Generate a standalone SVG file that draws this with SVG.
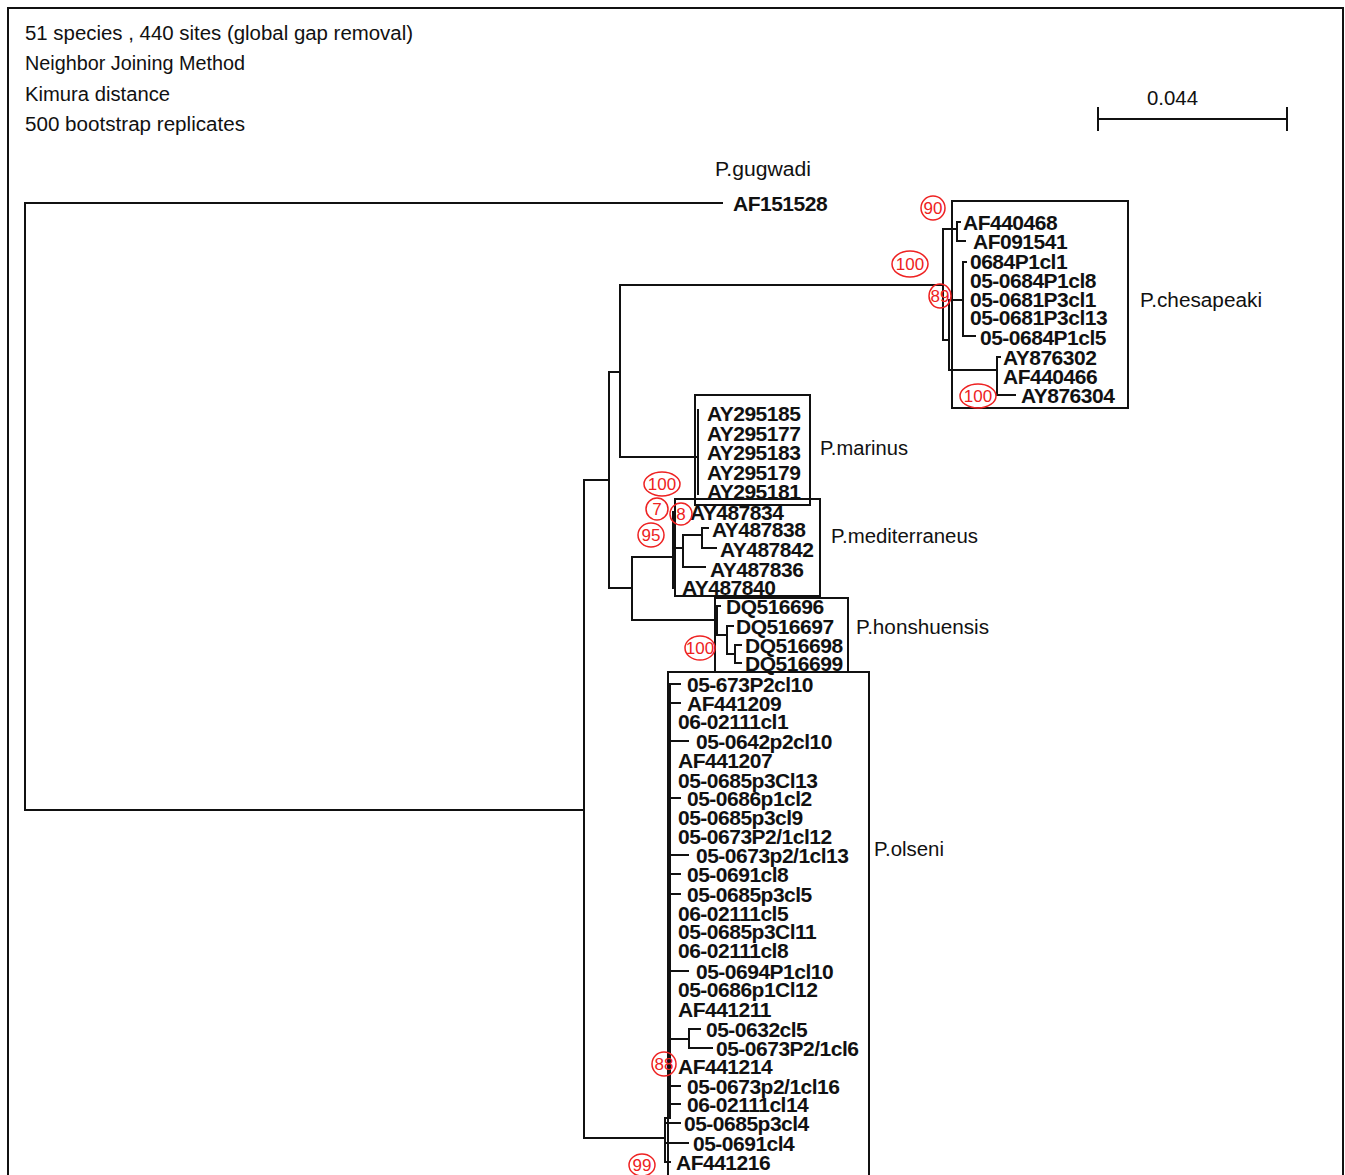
<svg xmlns="http://www.w3.org/2000/svg" width="1345" height="1175" viewBox="0 0 1345 1175">
<style>
.ln{fill:none;stroke:#111;stroke-width:2;stroke-linecap:square}
.box{fill:none;stroke:#111;stroke-width:2}
.hd{font-family:"Liberation Sans",Arial,sans-serif;font-size:20px;fill:#111}
.tip{font-family:"Liberation Sans",Arial,sans-serif;font-size:21px;font-weight:bold;fill:#111;letter-spacing:-0.5px}
.bs{fill:none;stroke:#e22;stroke-width:1.5}
.bt{font-family:"Liberation Sans",Arial,sans-serif;font-size:17px;fill:#e22;text-anchor:middle}
</style>
<rect x="8" y="8" width="1335" height="1190" class="box"/>
<g id="header">
<text class="hd" x="25" y="40" textLength="388" lengthAdjust="spacingAndGlyphs">51 species , 440 sites (global gap removal)</text>
<text class="hd" x="25" y="70" textLength="220" lengthAdjust="spacingAndGlyphs">Neighbor Joining Method</text>
<text class="hd" x="25" y="101" textLength="145" lengthAdjust="spacingAndGlyphs">Kimura distance</text>
<text class="hd" x="25" y="131" textLength="220" lengthAdjust="spacingAndGlyphs">500 bootstrap replicates</text>
</g>
<g id="scale">
<path class="ln" d="M1098 119 H1287 M1098 108 V130 M1287 108 V130"/>
<text class="hd" x="1147" y="105" textLength="51" lengthAdjust="spacingAndGlyphs">0.044</text>
</g>
<g id="connectors">
<path class="ln" d="M722 203 H25 V810 H584"/>
<path class="ln" d="M608 480 H584 V1138 H665"/>
<path class="ln" d="M620 372 H609 V588 H632"/>
<path class="ln" d="M943 285 H620 V457 H698"/>
<path class="ln" d="M673 557 H632 V620 H717"/>
<path class="ln" d="M957 229 H943 V340 H949 M963 300 H949 V370 H997"/>
<path class="ln" d="M960 222 H957 V241 H965"/>
<path class="ln" d="M963 262 V336 H975 M963 262 H966"/>
<path class="ln" d="M1000 357 H997 V395 H1015"/>
<path class="ln" d="M698 410 V494"/>
<path class="ln" d="M673 512 V588 M673 548 H683 M702 535 H683 V567 H705 M708 528 H702 V548 H716"/>
<path class="ln" d="M720 606 H717 V635 H727 M733 626 H727 V654 H735 M741 645 H735 V663 H741"/>
<path class="ln" d="M670 684 V1118 H665 M665 1118 V1162 H670 M665 1123 H680 M665 1143 H688"/>
<path class="ln" d="M670 684 H680 M670 703 H680 M670 741 H688 M670 798 H680 M670 855 H688 M670 874 H680 M670 894 H680 M670 971 H688 M670 1086 H680 M670 1104 H680"/>
<path class="ln" d="M670 1039 H689 M700 1029 H689 V1048 H712"/>
</g>
<g id="gugwadi">
<text class="hd" x="715" y="176" textLength="96" lengthAdjust="spacingAndGlyphs">P.gugwadi</text>
<text class="tip" x="733" y="211">AF151528</text>
</g>
<g id="chesapeaki">
<rect class="box" x="952" y="201" width="176" height="207"/>
<text class="hd" x="1140" y="307" textLength="122" lengthAdjust="spacingAndGlyphs">P.chesapeaki</text>
<text class="tip" x="963" y="230">AF440468</text>
<text class="tip" x="973" y="249">AF091541</text>
<text class="tip" x="970" y="269">0684P1cl1</text>
<text class="tip" x="970" y="288">05-0684P1cl8</text>
<text class="tip" x="970" y="307">05-0681P3cl1</text>
<text class="tip" x="970" y="325">05-0681P3cl13</text>
<text class="tip" x="980" y="345">05-0684P1cl5</text>
<text class="tip" x="1003" y="365">AY876302</text>
<text class="tip" x="1003" y="384">AF440466</text>
<text class="tip" x="1021" y="403">AY876304</text>
</g>
<g id="marinus">
<rect class="box" x="695" y="395" width="115" height="110"/>
<text class="hd" x="820" y="455" textLength="88" lengthAdjust="spacingAndGlyphs">P.marinus</text>
<text class="tip" x="707" y="421">AY295185</text>
<text class="tip" x="707" y="441">AY295177</text>
<text class="tip" x="707" y="460">AY295183</text>
<text class="tip" x="707" y="480">AY295179</text>
<text class="tip" x="707" y="499">AY295181</text>
</g>
<g id="mediterraneus">
<rect class="box" x="675" y="499" width="145" height="97"/>
<text class="hd" x="831" y="543" textLength="147" lengthAdjust="spacingAndGlyphs">P.mediterraneus</text>
<text class="tip" x="690" y="520">AY487834</text>
<text class="tip" x="712" y="537">AY487838</text>
<text class="tip" x="720" y="557">AY487842</text>
<text class="tip" x="710" y="577">AY487836</text>
<text class="tip" x="682" y="595">AY487840</text>
</g>
<g id="honshuensis">
<rect class="box" x="715" y="598" width="133" height="74"/>
<text class="hd" x="856" y="634" textLength="133" lengthAdjust="spacingAndGlyphs">P.honshuensis</text>
<text class="tip" x="726" y="614">DQ516696</text>
<text class="tip" x="736" y="634">DQ516697</text>
<text class="tip" x="745" y="653">DQ516698</text>
<text class="tip" x="745" y="671">DQ516699</text>
</g>
<g id="olseni">
<rect class="box" x="668" y="672" width="201" height="520"/>
<text class="hd" x="874" y="856" textLength="70" lengthAdjust="spacingAndGlyphs">P.olseni</text>
<text class="tip" x="687" y="692">05-673P2cl10</text>
<text class="tip" x="687" y="711">AF441209</text>
<text class="tip" x="678" y="729">06-02111cl1</text>
<text class="tip" x="696" y="749">05-0642p2cl10</text>
<text class="tip" x="678" y="768">AF441207</text>
<text class="tip" x="678" y="788">05-0685p3Cl13</text>
<text class="tip" x="687" y="806">05-0686p1cl2</text>
<text class="tip" x="678" y="825">05-0685p3cl9</text>
<text class="tip" x="678" y="844">05-0673P2/1cl12</text>
<text class="tip" x="696" y="863">05-0673p2/1cl13</text>
<text class="tip" x="687" y="882">05-0691cl8</text>
<text class="tip" x="687" y="902">05-0685p3cl5</text>
<text class="tip" x="678" y="921">06-02111cl5</text>
<text class="tip" x="678" y="939">05-0685p3Cl11</text>
<text class="tip" x="678" y="958">06-02111cl8</text>
<text class="tip" x="696" y="979">05-0694P1cl10</text>
<text class="tip" x="678" y="997">05-0686p1Cl12</text>
<text class="tip" x="678" y="1017">AF441211</text>
<text class="tip" x="706" y="1037">05-0632cl5</text>
<text class="tip" x="716" y="1056">05-0673P2/1cl6</text>
<text class="tip" x="678" y="1074">AF441214</text>
<text class="tip" x="687" y="1094">05-0673p2/1cl16</text>
<text class="tip" x="687" y="1112">06-02111cl14</text>
<text class="tip" x="684" y="1131">05-0685p3cl4</text>
<text class="tip" x="693" y="1151">05-0691cl4</text>
<text class="tip" x="676" y="1170">AF441216</text>
</g>
<g id="bootstrap">
<ellipse class="bs" cx="933" cy="208" rx="12" ry="12"/><text class="bt" x="933" y="214">90</text>
<ellipse class="bs" cx="910" cy="264" rx="18" ry="13"/><text class="bt" x="910" y="270">100</text>
<ellipse class="bs" cx="940" cy="296" rx="11" ry="12"/><text class="bt" x="940" y="302">89</text>
<ellipse class="bs" cx="978" cy="396" rx="18" ry="12"/><text class="bt" x="978" y="402">100</text>
<ellipse class="bs" cx="662" cy="484" rx="18" ry="12"/><text class="bt" x="662" y="490">100</text>
<ellipse class="bs" cx="657" cy="509" rx="11" ry="11"/><text class="bt" x="657" y="515">7</text>
<ellipse class="bs" cx="681" cy="514" rx="11" ry="11"/><text class="bt" x="681" y="520">8</text>
<ellipse class="bs" cx="651" cy="535" rx="13" ry="12"/><text class="bt" x="651" y="541">95</text>
<ellipse class="bs" cx="700" cy="648" rx="15" ry="12"/><text class="bt" x="700" y="654">100</text>
<ellipse class="bs" cx="664" cy="1064" rx="12" ry="12"/><text class="bt" x="664" y="1070">88</text>
<ellipse class="bs" cx="642" cy="1165" rx="13" ry="11"/><text class="bt" x="642" y="1171">99</text>
</g>
</svg>
